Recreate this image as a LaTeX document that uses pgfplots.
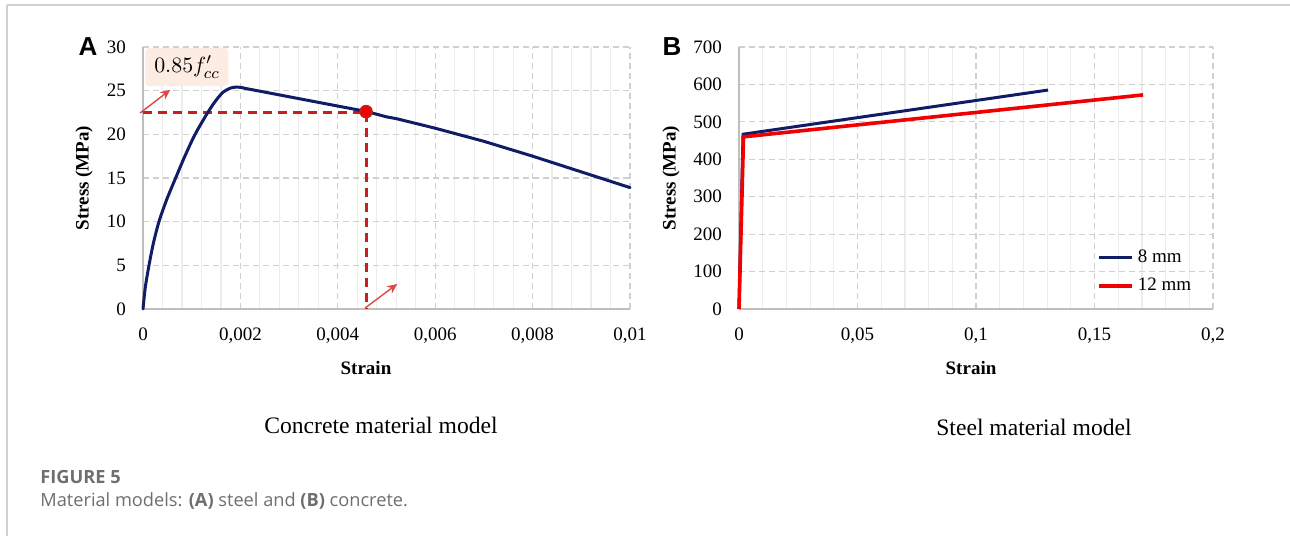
\documentclass[border=0pt]{standalone}
\usepackage{pgfplots}
\pgfplotsset{compat=1.18}
\usetikzlibrary{arrows.meta}
\usepackage{fontspec}
\setmainfont{Liberation Serif}
\newfontfamily\capfont{Open Sans}
\newfontfamily\panelfont{Liberation Sans}
\definecolor{navy}{RGB}{16,28,102}
\definecolor{redB}{RGB}{240,0,0}
\definecolor{dashred}{RGB}{200,30,30}
\definecolor{arrred}{RGB}{225,70,70}
\definecolor{peach}{RGB}{253,236,226}
\definecolor{gridg}{RGB}{208,208,208}
\definecolor{minorg}{RGB}{236,236,236}
\definecolor{axg}{RGB}{190,190,190}
\definecolor{capg}{RGB}{110,110,110}
\pgfplotsset{
  myaxis/.style={
    scale only axis,
    height=131pt,
    axis x line*=bottom, axis y line*=left,
    axis line style={axg, line width=0.8pt, -},
    major tick length=0pt, minor tick length=0pt,
    xmajorgrids, ymajorgrids, xminorgrids,
    major grid style={gridg, line width=0.6pt, dash pattern=on 3pt off 2pt},
    minor grid style={minorg, line width=0.6pt},
    minor x tick num=4,
    scaled x ticks=false, scaled y ticks=false,
    tick label style={font=\fontsize{9.5}{10}\selectfont, text=black},
    /pgf/number format/assume math mode=true,
    xticklabel style={yshift=-6pt},
    yticklabel style={xshift=-5pt},
    clip=false,
  }
}
\begin{document}
\begin{tikzpicture}
\path[use as bounding box] (0,0) rectangle (645pt,268pt);
\draw[gridg, line width=0.8pt] (3.5pt,265.5pt) -- (645pt,265.5pt);
\draw[gridg, line width=0.8pt] (3.5pt,265.5pt) -- (3.5pt,0pt);

% Panel A
\begin{axis}[myaxis,
  at={(71.5pt,113.5pt)}, anchor=south west,
  width=243.5pt,
  xmin=0, xmax=0.01, ymin=0, ymax=30,
  xtick={0,0.002,0.004,0.006,0.008,0.01},
  xticklabels={0,{0,002},{0,004},{0,006},{0,008},{0,01}},
  ytick={0,5,10,15,20,25,30},
]
\addplot[dashred, line width=1.5pt, dash pattern=on 4.5pt off 3pt] coordinates {(0,22.5) (0.00458,22.5)};
\addplot[dashred, line width=1.5pt, dash pattern=on 4.5pt off 3pt] coordinates {(0.00458,22.5) (0.00458,0)};
\addplot[navy, line width=1.5pt, line join=round, line cap=round, smooth, tension=0.5] coordinates {
(0,0) (0.000048,2.5) (0.000123,5) (0.000212,7.5) (0.000328,10) (0.000485,12.5)
(0.00067,15) (0.00086,17.5) (0.00107,20) (0.00133,22.5) (0.00150,23.9)
(0.00165,24.85) (0.0018,25.3) (0.0019,25.4) (0.002,25.38) (0.0021,25.26)};
\addplot[navy, line width=1.5pt, line join=round, line cap=round] coordinates {
(0.0021,25.26) (0.0046,22.6) (0.005,22.0) (0.0052,21.8) (0.006,20.7) (0.007,19.2)
(0.008,17.5) (0.009,15.7) (0.01,13.9)};
\addplot[only marks, mark=*, mark size=3pt, mark options={fill=redB, draw=dashred, line width=0.8pt}] coordinates {(0.00458,22.6)};
\draw[arrred, line width=0.7pt, -{Stealth[length=5pt,width=4.5pt]}] (axis cs:-0.00006,22.44) -- (axis cs:0.00056,25.1);
\draw[arrred, line width=0.7pt, -{Stealth[length=5pt,width=4.5pt]}] (axis cs:0.00456,0.11) -- (axis cs:0.00522,2.86);
\node[fill=peach, rounded corners=2pt, minimum width=41.5pt, minimum height=19pt, inner sep=0pt, font=\fontsize{11}{13}\selectfont] at (axis cs:0.000903,27.7) {$0.85f'_{cc}$};
\end{axis}

% Panel B
\begin{axis}[myaxis,
  at={(369.5pt,113.5pt)}, anchor=south west,
  width=237pt,
  xmin=0, xmax=0.2, ymin=0, ymax=700,
  xtick={0,0.05,0.1,0.15,0.2},
  xticklabels={0,{0,05},{0,1},{0,15},{0,2}},
  ytick={0,100,200,300,400,500,600,700},
  legend style={at={(axis cs:0.1510,171)}, anchor=north west, draw=none, fill=none,
    inner sep=0pt, row sep=2.5pt, font=\fontsize{9.5}{10}\selectfont,
    legend cell align=left},
  legend image code/.code={\draw[#1] (0pt,0pt) -- (16.5pt,0pt);},
]
\addplot[navy, line width=1.5pt] coordinates {(0,0) (0.0017,467) (0.1304,585)};
\addlegendentry{8 mm}
\addplot[redB, line width=1.8pt] coordinates {(0,0) (0.0019,460) (0.1705,572)};
\addlegendentry{12 mm}
\end{axis}

% texts
\node[font=\panelfont\bfseries\fontsize{13}{14}\selectfont] at (44pt,244.5pt) {A};
\node[font=\panelfont\bfseries\fontsize{13}{14}\selectfont] at (336pt,244.5pt) {B};
\node[rotate=90, font=\bfseries\fontsize{9.5}{11}\selectfont] at (42pt,179pt) {Stress (MPa)};
\node[rotate=90, font=\bfseries\fontsize{9.5}{11}\selectfont] at (335.5pt,179pt) {Stress (MPa)};
\node[font=\bfseries\fontsize{9.5}{11}\selectfont] at (183pt,84pt) {Strain};
\node[font=\bfseries\fontsize{9.5}{11}\selectfont] at (485.5pt,84pt) {Strain};
\node[font=\fontsize{11.8}{14}\selectfont] at (190.5pt,55.5pt) {Concrete material model};
\node[font=\fontsize{11.8}{14}\selectfont] at (517pt,54.5pt) {Steel material model};
\node[anchor=west, inner sep=0pt, text=capg, font=\capfont\bfseries\fontsize{9.1}{10}\selectfont] at (20pt,29.5pt) {FIGURE 5};
\node[anchor=west, inner sep=0pt, text=capg, font=\capfont\fontsize{9.1}{10}\selectfont] at (20pt,17.5pt) {Material models: {\bfseries (A)} steel and {\bfseries (B)} concrete.};
\end{tikzpicture}
\end{document}
